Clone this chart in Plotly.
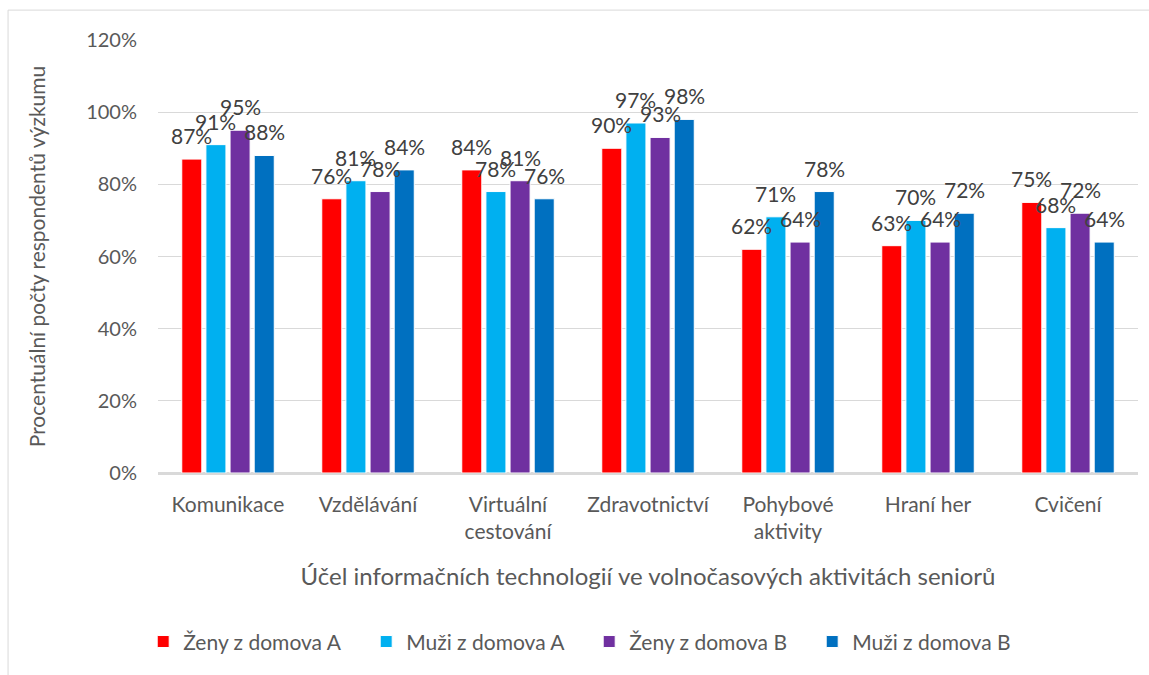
import plotly.graph_objects as go

categories = ["Komunikace", "Vzdělávání", "Virtuální<br>cestování", "Zdravotnictví",
              "Pohybové<br>aktivity", "Hraní her", "Cvičení"]
series_names = ["Ženy z domova A", "Muži z domova A", "Ženy z domova B", "Muži z domova B"]
zeny_a = [0.87, 0.76, 0.84, 0.90, 0.62, 0.63, 0.75]
muzi_a = [0.91, 0.81, 0.78, 0.97, 0.71, 0.70, 0.68]
zeny_b = [0.95, 0.78, 0.81, 0.93, 0.64, 0.64, 0.72]
muzi_b = [0.88, 0.84, 0.76, 0.98, 0.78, 0.72, 0.64]
colors = ["#FF0000", "#00B0F0", "#7030A0", "#0070C0"]

FONT = "Lato, Calibri, 'Noto Sans', sans-serif"
BARGAP = 0.31
all_series = [zeny_a, muzi_a, zeny_b, muzi_b]

fig = go.Figure()
for name, vals, col in zip(series_names, all_series, colors):
    fig.add_trace(go.Bar(
        x=categories, y=vals, name=name,
        marker=dict(color=col, line=dict(color="white", width=1)),
    ))

# data labels, Excel style: centred over each bar with some padding
slot = (1 - BARGAP) / len(all_series)
annotations = []
for j, vals in enumerate(all_series):
    for i, v in enumerate(vals):
        annotations.append(dict(
            x=i + (j - (len(all_series) - 1) / 2) * slot, y=v,
            xref="x", yref="y", text=f"{round(v * 100)}%",
            showarrow=False, yanchor="bottom", yshift=9,
            font=dict(size=21, color="#404040", family=FONT),
        ))

fig.update_layout(
    width=1149, height=675,
    paper_bgcolor="white", plot_bgcolor="white",
    font=dict(family=FONT, color="#595959"),
    barmode="group", bargap=BARGAP, bargroupgap=0.17,
    margin=dict(l=158, r=11, t=40, b=202),
    annotations=annotations,
    xaxis=dict(
        title=dict(text="Účel informačních technologií ve volnočasových aktivitách seniorů",
                   font=dict(size=24, color="#595959"), standoff=26),
        tickfont=dict(size=21, color="#595959"),
        showline=True, linecolor="#d9d9d9", linewidth=1.5,
        ticks="", ticklabelstandoff=12,
    ),
    yaxis=dict(
        title=dict(text="Procentuální počty respondentů výzkumu",
                   font=dict(size=21, color="#595959"), standoff=34),
        range=[0, 1.2], dtick=0.2, tickformat=".0%",
        tickfont=dict(size=20, color="#595959"),
        gridcolor="#d9d9d9", gridwidth=1,
        zeroline=True, zerolinecolor="#d9d9d9", zerolinewidth=1.5,
        ticklabelstandoff=20,
    ),
    legend=dict(
        orientation="h", x=0.44, xanchor="center", y=-0.39, yanchor="middle",
        font=dict(size=21, color="#595959"),
        entrywidth=178, entrywidthmode="pixels",
    ),
    shapes=[dict(type="rect", xref="paper", yref="paper",
                 x0=-0.153, x1=1.03, y0=-0.48, y1=1.069,
                 line=dict(color="#d9d9d9", width=1), layer="below")],
)

fig.write_html("out.html", config={"displayModeBar": False},
               post_script="document.body.style.margin = '0';")
